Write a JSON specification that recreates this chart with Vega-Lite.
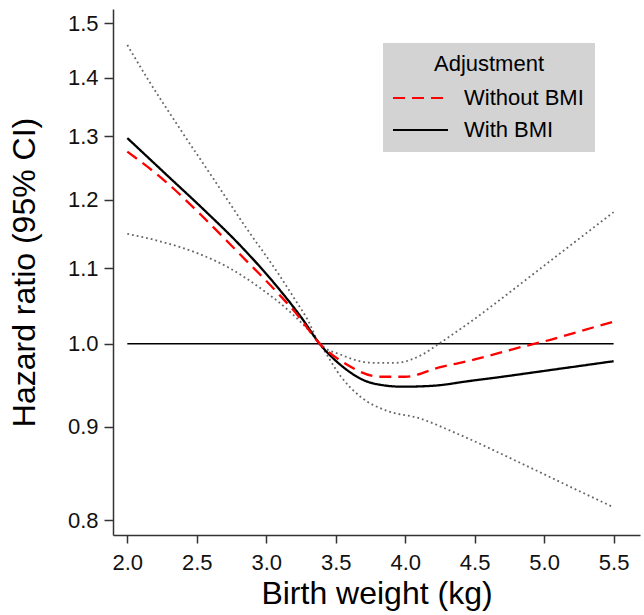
{
  "$schema": "https://vega.github.io/schema/vega-lite/v6.json",
  "width": 527,
  "height": 526,
  "autosize": {"type": "none"},
  "padding": {"left": 113, "top": 9, "right": 4, "bottom": 80},
  "background": "white",
  "config": {
    "view": {"stroke": null},
    "font": "Liberation Sans",
    "axis": {
      "domainColor": "#333333",
      "domainWidth": 1.5,
      "tickColor": "#333333",
      "tickWidth": 1.5,
      "grid": false,
      "labelFont": "Liberation Sans",
      "labelFontSize": 22,
      "labelColor": "#111111",
      "titleFont": "Liberation Sans",
      "titleFontSize": 32,
      "titleFontWeight": "normal",
      "titleColor": "#000000"
    }
  },
  "datasets": {
    "curves": [
      {"weight": 2.0, "hr": 1.297, "model": "With BMI"},
      {"weight": 2.273, "hr": 1.24, "model": "With BMI"},
      {"weight": 2.554, "hr": 1.184, "model": "With BMI"},
      {"weight": 2.809, "hr": 1.133, "model": "With BMI"},
      {"weight": 3.068, "hr": 1.077, "model": "With BMI"},
      {"weight": 3.255, "hr": 1.033, "model": "With BMI"},
      {"weight": 3.384, "hr": 1.0, "model": "With BMI"},
      {"weight": 3.538, "hr": 0.973, "model": "With BMI"},
      {"weight": 3.769, "hr": 0.951, "model": "With BMI"},
      {"weight": 3.98, "hr": 0.947, "model": "With BMI"},
      {"weight": 4.19, "hr": 0.948, "model": "With BMI"},
      {"weight": 4.471, "hr": 0.954, "model": "With BMI"},
      {"weight": 4.611, "hr": 0.957, "model": "With BMI"},
      {"weight": 5.081, "hr": 0.968, "model": "With BMI"},
      {"weight": 5.5, "hr": 0.978, "model": "With BMI"},
      {"weight": 2.0, "hr": 1.275, "model": "Without BMI"},
      {"weight": 2.273, "hr": 1.228, "model": "Without BMI"},
      {"weight": 2.554, "hr": 1.172, "model": "Without BMI"},
      {"weight": 2.809, "hr": 1.12, "model": "Without BMI"},
      {"weight": 3.068, "hr": 1.069, "model": "Without BMI"},
      {"weight": 3.229, "hr": 1.036, "model": "Without BMI"},
      {"weight": 3.384, "hr": 1.0, "model": "Without BMI"},
      {"weight": 3.56, "hr": 0.976, "model": "Without BMI"},
      {"weight": 3.819, "hr": 0.959, "model": "Without BMI"},
      {"weight": 4.0, "hr": 0.959, "model": "Without BMI"},
      {"weight": 4.239, "hr": 0.97, "model": "Without BMI"},
      {"weight": 4.471, "hr": 0.979, "model": "Without BMI"},
      {"weight": 4.842, "hr": 0.996, "model": "Without BMI"},
      {"weight": 4.982, "hr": 1.002, "model": "Without BMI"},
      {"weight": 5.438, "hr": 1.025, "model": "Without BMI"},
      {"weight": 5.5, "hr": 1.028, "model": "Without BMI"}
    ],
    "ci": [
      {"weight": 2.0, "hr": 1.459, "bound": "upper"},
      {"weight": 2.156, "hr": 1.394, "bound": "upper"},
      {"weight": 2.388, "hr": 1.309, "bound": "upper"},
      {"weight": 2.626, "hr": 1.23, "bound": "upper"},
      {"weight": 2.858, "hr": 1.157, "bound": "upper"},
      {"weight": 3.089, "hr": 1.092, "bound": "upper"},
      {"weight": 3.208, "hr": 1.057, "bound": "upper"},
      {"weight": 3.3, "hr": 1.03, "bound": "upper"},
      {"weight": 3.384, "hr": 1.0, "bound": "upper"},
      {"weight": 3.538, "hr": 0.986, "bound": "upper"},
      {"weight": 3.769, "hr": 0.976, "bound": "upper"},
      {"weight": 3.931, "hr": 0.976, "bound": "upper"},
      {"weight": 4.12, "hr": 0.986, "bound": "upper"},
      {"weight": 4.26, "hr": 1.002, "bound": "upper"},
      {"weight": 4.471, "hr": 1.028, "bound": "upper"},
      {"weight": 4.611, "hr": 1.047, "bound": "upper"},
      {"weight": 4.962, "hr": 1.098, "bound": "upper"},
      {"weight": 5.5, "hr": 1.181, "bound": "upper"},
      {"weight": 2.0, "hr": 1.149, "bound": "lower"},
      {"weight": 2.276, "hr": 1.136, "bound": "lower"},
      {"weight": 2.507, "hr": 1.121, "bound": "lower"},
      {"weight": 2.738, "hr": 1.1, "bound": "lower"},
      {"weight": 2.977, "hr": 1.07, "bound": "lower"},
      {"weight": 3.159, "hr": 1.043, "bound": "lower"},
      {"weight": 3.384, "hr": 1.0, "bound": "lower"},
      {"weight": 3.538, "hr": 0.959, "bound": "lower"},
      {"weight": 3.678, "hr": 0.935, "bound": "lower"},
      {"weight": 3.86, "hr": 0.919, "bound": "lower"},
      {"weight": 4.099, "hr": 0.91, "bound": "lower"},
      {"weight": 4.379, "hr": 0.892, "bound": "lower"},
      {"weight": 4.842, "hr": 0.859, "bound": "lower"},
      {"weight": 5.193, "hr": 0.834, "bound": "lower"},
      {"weight": 5.5, "hr": 0.813, "bound": "lower"}
    ],
    "ref": [
      {"weight": 2.0, "hr": 1.0},
      {"weight": 5.5, "hr": 1.0}
    ]
  },
  "encoding": {
    "x": {
      "field": "weight",
      "type": "quantitative",
      "scale": {"domain": [1.897, 5.69], "nice": false, "zero": false},
      "axis": {
        "title": "Birth weight (kg)",
        "values": [2.0, 2.5, 3.0, 3.5, 4.0, 4.5, 5.0, 5.5],
        "format": ".1f",
        "tickSize": 8,
        "labelPadding": 9,
        "titlePadding": 5,
        "labelFlush": false
      }
    },
    "y": {
      "field": "hr",
      "type": "quantitative",
      "scale": {"type": "log", "domain": [0.785, 1.527], "nice": false, "zero": false},
      "axis": {
        "title": "Hazard ratio (95% CI)",
        "values": [0.8, 0.9, 1.0, 1.1, 1.2, 1.3, 1.4, 1.5],
        "format": ".1f",
        "tickSize": 9,
        "labelPadding": 6,
        "titlePadding": 26,
        "labelFlush": false
      }
    }
  },
  "layer": [
    {
      "data": {"name": "ref"},
      "mark": {"type": "line", "color": "#000000", "strokeWidth": 1.5},
      "encoding": {}
    },
    {
      "data": {"name": "ci"},
      "mark": {"type": "line", "interpolate": "monotone", "color": "#666666", "strokeWidth": 1.8, "strokeDash": [1.8, 3]},
      "encoding": {"detail": {"field": "bound"}}
    },
    {
      "data": {"name": "curves"},
      "mark": {"type": "line", "interpolate": "monotone", "strokeWidth": 2.3},
      "encoding": {
        "color": {
          "field": "model",
          "type": "nominal",
          "scale": {"domain": ["Without BMI", "With BMI"], "range": ["#ff0000", "#000000"]},
          "legend": {
            "title": "Adjustment",
            "orient": "none",
            "legendX": 270,
            "legendY": 34,
            "fillColor": "#d3d3d3",
            "padding": 11,
            "titleFontSize": 22,
            "titleFontWeight": "normal",
            "titleFont": "Liberation Sans",
            "titleColor": "#000000",
            "titleAlign": "center",
            "titleAnchor": "middle",
            "titlePadding": 10,
            "labelFontSize": 22,
            "labelFont": "Liberation Sans",
            "labelColor": "#000000",
            "labelOffset": 31.5,
            "symbolType": "M-2.5,0H2.5",
            "symbolSize": 484,
            "symbolOffset": 14.5,
            "symbolStrokeWidth": 2,
            "rowPadding": 9
          }
        },
        "strokeDash": {
          "field": "model",
          "type": "nominal",
          "scale": {"domain": ["Without BMI", "With BMI"], "range": [[12, 7], [1, 0]]},
          "legend": {
            "title": "Adjustment"
          }
        }
      }
    }
  ]
}
